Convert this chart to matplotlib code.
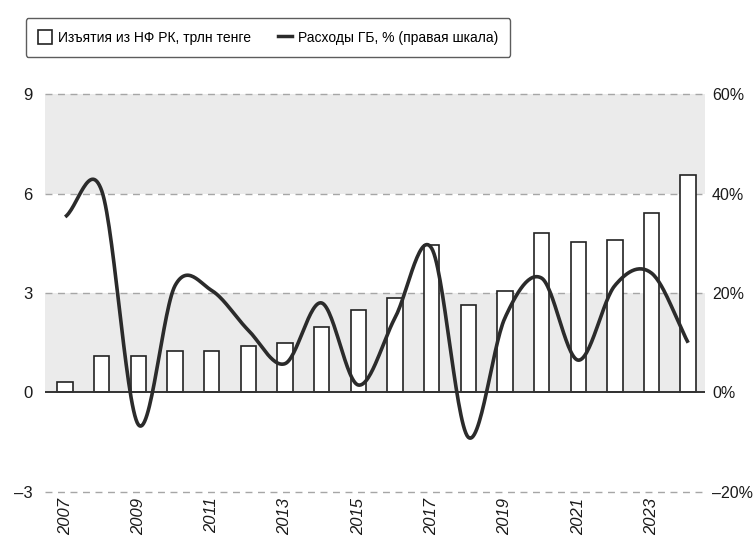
import numpy as np
import matplotlib.pyplot as plt
from matplotlib.patches import Patch
from matplotlib.lines import Line2D

years = list(range(2007, 2025))
withdrawals = [0.31, 1.11, 1.11, 1.24, 1.24, 1.39, 1.48, 1.98, 2.48, 2.86,
               4.46, 2.63, 3.07, 4.82, 4.53, 4.60, 5.40, 6.56]
spending = [35.3, 40.5, -6.5, 21.5, 20.5, 12.5, 5.8, 18.0, 1.5, 15.0,
            29.0, -9.0, 15.0, 23.0, 6.5, 21.5, 24.0, 10.0]

label_bars = 'Изъятия из НФ РК, трлн тенге'
label_line = 'Расходы ГБ, % (правая шкала)'


def catmull_rom(x, y, n=30):
    # smooth line through the points, like the "smoothed line" option in office charts
    x = np.asarray(x, float)
    y = np.asarray(y, float)
    px = np.concatenate([[2 * x[0] - x[1]], x, [2 * x[-1] - x[-2]]])
    py = np.concatenate([[2 * y[0] - y[1]], y, [2 * y[-1] - y[-2]]])
    xs, ys = [], []
    t = np.linspace(0, 1, n, endpoint=False)
    for i in range(1, len(px) - 2):
        for arr, out in ((px, xs), (py, ys)):
            p0, p1, p2, p3 = arr[i - 1], arr[i], arr[i + 1], arr[i + 2]
            out.extend(0.5 * ((2 * p1) + (-p0 + p2) * t
                              + (2 * p0 - 5 * p1 + 4 * p2 - p3) * t ** 2
                              + (-p0 + 3 * p1 - 3 * p2 + p3) * t ** 3))
    xs.append(x[-1])
    ys.append(y[-1])
    return np.array(xs), np.array(ys)


plt.rcParams['font.family'] = ['Liberation Sans', 'DejaVu Sans']

fig = plt.figure(figsize=(7.55, 5.41), dpi=100)
ax = fig.add_axes([0.0596, 0.0906, 0.8742, 0.7356])
ax2 = ax.twinx()

x = np.arange(len(years))

# grey bands and grid
ax.axhspan(0, 3, color='#ebebeb', lw=0, zorder=0)
ax.axhspan(6, 9, color='#ebebeb', lw=0, zorder=0)
for v in [-3, 3, 6, 9]:
    ax.axhline(v, color='#a6a6a6', lw=1, ls=(0, (5, 4)), zorder=1, clip_on=False)

ax.bar(x, withdrawals, width=0.42, color='white', edgecolor='#222222', lw=1.2, zorder=2)
ax.axhline(0, color='#333333', lw=1.4, zorder=3)

sx, sy = catmull_rom(x, spending)
ax2.plot(sx, sy, color='#2b2b2b', lw=2.6, solid_capstyle='butt')

ax.set_xlim(-0.55, 17.46)
ax.set_ylim(-3, 9)
ax2.set_ylim(-20, 60)

ax.set_yticks([-3, 0, 3, 6, 9])
ax.set_yticklabels(['\u20133', '0', '3', '6', '9'])
ax2.set_yticks([-20, 0, 20, 40, 60])
ax2.set_yticklabels(['\u201320%', '0%', '20%', '40%', '60%'])

ax.set_xticks(x[::2])
ax.set_xticklabels([str(y) for y in years[::2]], rotation=90, fontstyle='italic')

for a in (ax, ax2):
    for s in a.spines.values():
        s.set_visible(False)
    a.tick_params(length=0, labelsize=12, colors='#1a1a1a')
ax.tick_params(axis='y', pad=9)
ax2.tick_params(axis='y', pad=5, labelsize=11.5)
ax.tick_params(axis='x', pad=4)

handles = [Patch(facecolor='white', edgecolor='#222222', lw=1.2),
           Line2D([0], [0], color='#2b2b2b', lw=2.5)]
leg = fig.legend(handles, [label_bars, label_line], ncol=2, loc='center',
                 bbox_to_anchor=(0.355, 0.9307), frameon=True, fancybox=True,
                 fontsize=10, handlelength=1.0, handleheight=1.1,
                 columnspacing=2.0, handletextpad=0.4, borderpad=0.9)
leg.get_frame().set_edgecolor('#333333')
leg.get_frame().set_linewidth(1)

fig.savefig('out.png', dpi=100)
